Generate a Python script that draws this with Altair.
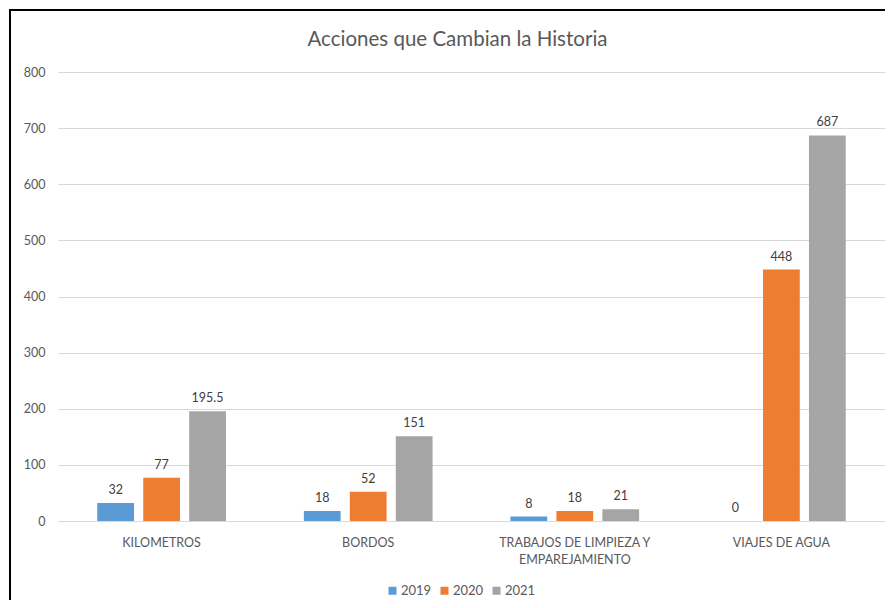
import altair as alt
import pandas as pd

categories = ["KILOMETROS", "BORDOS", "TRABAJOS DE LIMPIEZA Y\nEMPAREJAMIENTO", "VIAJES DE AGUA"]
years = ["2019", "2020", "2021"]
values_2019 = [32, 18, 8, 0]
values_2020 = [77, 52, 18, 448]
values_2021 = [195.5, 151, 21, 687]
colors = ["#5B9BD5", "#ED7D31", "#A5A5A5"]

rows = []
for yr, vals in zip(years, [values_2019, values_2020, values_2021]):
    for c, v in zip(categories, vals):
        rows.append({"categoria": c, "anio": yr, "valor": v})
df = pd.DataFrame(rows)

FONT = "Lato"
TXT = "#595959"

base = alt.Chart(df).encode(
    x=alt.X("categoria:N", sort=categories,
            scale=alt.Scale(paddingInner=0.377, paddingOuter=0.19),
            axis=alt.Axis(title=None, labelAngle=0, labelExpr="split(datum.label, '\\n')",
                          labelFont=FONT, labelFontSize=12.5, labelColor=TXT,
                          labelPadding=15, ticks=False, domainColor="#D9D9D9",
                          labelLineHeight=17)),
    xOffset=alt.XOffset("anio:N", sort=years, scale=alt.Scale(paddingInner=0.2, paddingOuter=0)),
)

bars = base.mark_bar().encode(
    y=alt.Y("valor:Q", scale=alt.Scale(domain=[0, 800]),
            axis=alt.Axis(title=None, values=list(range(0, 801, 100)), ticks=False, domain=False,
                          gridColor="#D9D9D9", labelFont=FONT, labelFontSize=12.5,
                          labelColor=TXT, labelPadding=13)),
    color=alt.Color("anio:N", sort=years, scale=alt.Scale(domain=years, range=colors),
                    legend=alt.Legend(title=None, orient="none", direction="horizontal",
                                      legendX=328, legendY=512, symbolType="square",
                                      symbolSize=64, symbolStrokeWidth=0, labelFont=FONT,
                                      labelFontSize=13, labelColor=TXT, labelOffset=2,
                                      columnPadding=6)),
)

labels = base.mark_text(baseline="alphabetic", dy=-9, font=FONT, fontSize=12.5, color="#404040").encode(
    y=alt.Y("valor:Q"),
    text=alt.Text("valor:Q"),
)

frame_left = alt.Chart(pd.DataFrame({"k": [0]})).mark_rule(color="black", strokeWidth=2).encode(
    x=alt.value(-48), y=alt.value(-62), y2=alt.value(540))
frame_top = alt.Chart(pd.DataFrame({"k": [0]})).mark_rule(color="black", strokeWidth=2).encode(
    x=alt.value(-49), x2=alt.value(840), y=alt.value(-62))

chart = alt.layer(bars, labels, frame_left, frame_top).properties(
    width=827, height=449,
    padding={"left": 50, "top": 64, "right": 0, "bottom": 79},
    autosize=alt.AutoSizeParams(type="none"),
    title=alt.TitleParams("Acciones que Cambian la Historia", font=FONT, fontSize=20.5,
                          fontWeight="normal", color=TXT, anchor="middle", frame="group",
                          dx=-14, offset=-41),
).configure_view(stroke=None)

chart.save("out.html", embed_options={"renderer": "svg", "actions": False})
